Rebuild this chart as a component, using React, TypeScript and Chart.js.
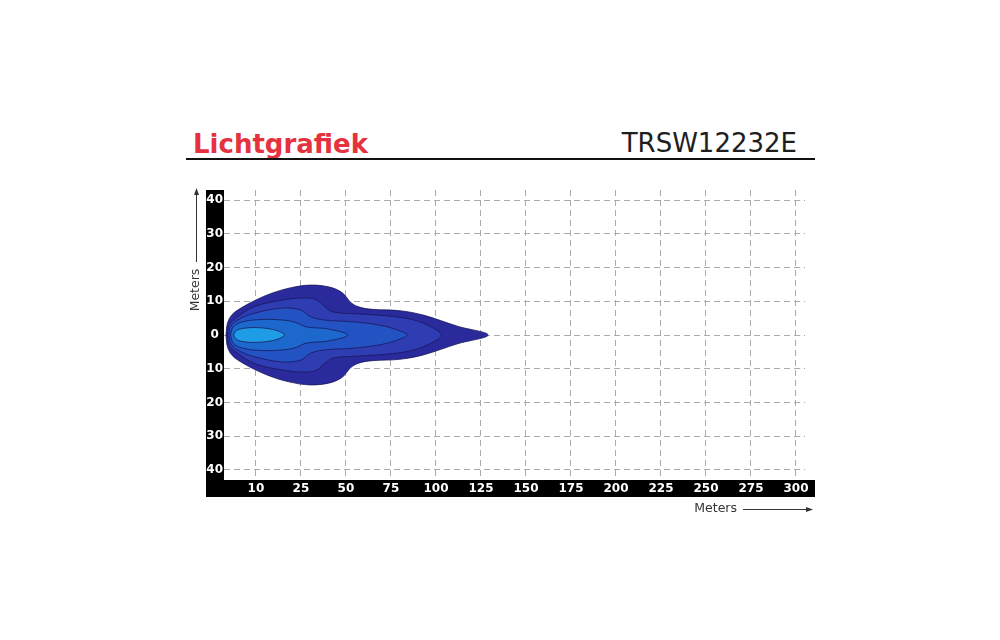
import { useEffect, useRef } from "react"
import { Chart, registerables } from "chart.js"

Chart.register(...registerables)

// axis ticks (x labels are not evenly spaced in meters, each one gets its own column)
const X_TICK_METERS = [10, 25, 50, 75, 100, 125, 150, 175, 200, 225, 250, 275, 300]
const Y_TICKS = [40, 30, 20, 10, 0, -10, -20, -30, -40]

// beam zones, outer to inner: distance in meters, half width in meters
const ZONE1_DIST = [0, 0.5, 2, 5, 10, 15, 21, 30, 41, 48, 53, 58, 65, 80, 93, 112, 129]
const ZONE1_HALF = [0, 3.5, 6, 8, 10.4, 12.3, 13.9, 14.8, 14.2, 12.5, 9.5, 8.2, 7.6, 7.2, 5.9, 2.6, 0]

const ZONE2_DIST = [0.5, 1, 4, 9.7, 19, 28, 34, 39, 43, 55, 70, 85, 95, 103]
const ZONE2_HALF = [0, 3, 5.5, 8.5, 10.4, 11, 10.3, 8, 6.8, 6.3, 5.8, 4.8, 3, 0]

const ZONE3_DIST = [1, 1.5, 4, 9.7, 19, 25, 30, 37, 54, 68, 78, 84]
const ZONE3_HALF = [0, 2.4, 4.5, 6.5, 8, 7.4, 5.5, 4.5, 3.9, 3, 1.6, 0]

const ZONE4_DIST = [1.5, 2.5, 6, 12, 18, 23, 28, 40, 51]
const ZONE4_HALF = [0, 2.5, 4, 4.6, 4.5, 3.8, 2.4, 1.8, 0]

const ZONE5_DIST = [2.5, 3.5, 6, 10, 14, 17, 19.5]
const ZONE5_HALF = [0, 1.3, 2, 2.2, 1.9, 1.3, 0]

const ZONE_COLORS = ["#2b2a9d", "#2f3db3", "#2352c2", "#1d68cc", "#1e9de6"]

// meters -> column position on the x axis
const toAxis = (m: number) => {
  let i = 0
  while (i < X_TICK_METERS.length - 2 && m > X_TICK_METERS[i + 1]) i++
  const a = X_TICK_METERS[i]
  const b = X_TICK_METERS[i + 1]
  return i + 1 + (m - a) / (b - a)
}

const outline = (dist: number[], half: number[]) => {
  const top = dist.map((d, i) => ({ x: toAxis(d), y: half[i] }))
  const bottom = dist
    .slice(1, -1)
    .reverse()
    .map((d, i, arr) => ({ x: toAxis(d), y: -half[arr.length - i] }))
  return [...top, ...bottom, top[0]]
}

const framePlugin = {
  id: "frame",
  beforeDraw(chart: any) {
    const { ctx, chartArea } = chart
    const xs = chart.scales.x
    const ys = chart.scales.y
    ctx.save()
    ctx.fillStyle = "#fff"
    ctx.fillRect(0, 0, chart.width, chart.height)
    ctx.fillStyle = "#000"
    ctx.fillRect(ys.left, chartArea.top, ys.right - ys.left, xs.bottom - chartArea.top)
    ctx.fillRect(ys.left, xs.top, chartArea.right + 10 - ys.left, xs.bottom - xs.top)
    ctx.restore()
  },
  afterDraw(chart: any) {
    const { ctx, chartArea } = chart
    const xs = chart.scales.x
    const ys = chart.scales.y
    ctx.save()
    ctx.fillStyle = "#333"
    ctx.strokeStyle = "#333"
    ctx.lineWidth = 1
    ctx.font = "12.5px 'DejaVu Sans'"
    ctx.textBaseline = "middle"

    // x title + arrow
    const ty = xs.bottom + 12
    ctx.textAlign = "right"
    ctx.fillText("Meters", chartArea.right - 68, ty)
    ctx.beginPath()
    ctx.moveTo(chartArea.right - 62, ty + 0.5)
    ctx.lineTo(chartArea.right + 2, ty + 0.5)
    ctx.stroke()
    ctx.beginPath()
    ctx.moveTo(chartArea.right + 8, ty + 0.5)
    ctx.lineTo(chartArea.right + 1, ty - 2)
    ctx.lineTo(chartArea.right + 1, ty + 3)
    ctx.closePath()
    ctx.fill()

    // y title + arrow
    const tx = ys.left - 10
    ctx.save()
    ctx.translate(tx, chartArea.top + 100)
    ctx.rotate(-Math.PI / 2)
    ctx.textAlign = "center"
    ctx.fillText("Meters", 0, 0)
    ctx.restore()
    ctx.beginPath()
    ctx.moveTo(tx + 0.5, chartArea.top + 72)
    ctx.lineTo(tx + 0.5, chartArea.top + 4)
    ctx.stroke()
    ctx.beginPath()
    ctx.moveTo(tx + 0.5, chartArea.top - 2)
    ctx.lineTo(tx - 2, chartArea.top + 5)
    ctx.lineTo(tx + 3, chartArea.top + 5)
    ctx.closePath()
    ctx.fill()
    ctx.restore()
  },
}

export default function App() {
  const canvasRef = useRef<HTMLCanvasElement>(null)
  const chartRef = useRef<Chart | null>(null)

  useEffect(() => {
    if (!canvasRef.current) return
    if (chartRef.current) chartRef.current.destroy()

    const zones = [
      [ZONE1_DIST, ZONE1_HALF],
      [ZONE2_DIST, ZONE2_HALF],
      [ZONE3_DIST, ZONE3_HALF],
      [ZONE4_DIST, ZONE4_HALF],
      [ZONE5_DIST, ZONE5_HALF],
    ]

    const tickFont = { family: "'DejaVu Sans'", size: 12, weight: "bold" as const }
    const grid = {
      color: "#ababab",
      lineWidth: 1,
      drawTicks: false,
    }

    chartRef.current = new Chart(canvasRef.current, {
      type: "scatter",
      data: {
        datasets: zones.map(([dist, half], i) => ({
          data: outline(dist, half),
          showLine: true,
          fill: "shape",
          backgroundColor: ZONE_COLORS[i],
          borderColor: "rgba(22, 22, 85, 0.75)",
          borderWidth: 1,
          tension: 0.35,
          pointRadius: 0,
          order: zones.length - i,
        })),
      },
      options: {
        animation: false,
        responsive: true,
        maintainAspectRatio: false,
        events: [],
        layout: { padding: { left: 20, top: 10, right: 21, bottom: 33 } },
        plugins: {
          legend: { display: false },
          tooltip: { enabled: false },
        },
        scales: {
          x: {
            type: "linear",
            min: 0.29,
            max: 13.2,
            afterFit: (s: any) => {
              s.height = 17
            },
            afterBuildTicks: (s: any) => {
              s.ticks = X_TICK_METERS.map((_, i) => ({ value: i + 1 }))
            },
            grid,
            border: { display: false, dash: [6, 4] },
            ticks: {
              autoSkip: false,
              maxRotation: 0,
              padding: 2,
              color: "#fff",
              font: tickFont,
              callback: (_v: any, i: number) => String(X_TICK_METERS[i]),
            },
          },
          y: {
            type: "linear",
            min: -43,
            max: 43,
            afterFit: (s: any) => {
              s.width = 18
            },
            afterBuildTicks: (s: any) => {
              s.ticks = Y_TICKS.map((v) => ({ value: v }))
            },
            grid,
            border: { display: false, dash: [6, 4] },
            ticks: {
              padding: 1,
              crossAlign: "center",
              color: "#fff",
              font: tickFont,
              callback: (v: any) => String(Math.abs(Number(v))),
            },
          },
        },
      },
      plugins: [framePlugin],
    } as any)

    return () => {
      if (chartRef.current) {
        chartRef.current.destroy()
        chartRef.current = null
      }
    }
  }, [])

  return (
    <div style={{ position: "fixed", left: 0, top: 0, width: 1000, height: 640, background: "#fff", fontFamily: "'DejaVu Sans', sans-serif" }}>
      <div style={{ position: "absolute", left: 193, top: 131, fontSize: 26, lineHeight: "26px", fontWeight: "bold", color: "#e5323f" }}>
        Lichtgrafiek
      </div>
      <div style={{ position: "absolute", right: 203, top: 130, fontSize: 26, lineHeight: "26px", color: "#1e1e1e" }}>
        TRSW12232E
      </div>
      <div style={{ position: "absolute", left: 186, top: 158, width: 629, height: 2, background: "#111" }} />
      <div style={{ position: "absolute", left: 186, top: 180, width: 640, height: 350 }}>
        <canvas ref={canvasRef} />
      </div>
    </div>
  )
}
